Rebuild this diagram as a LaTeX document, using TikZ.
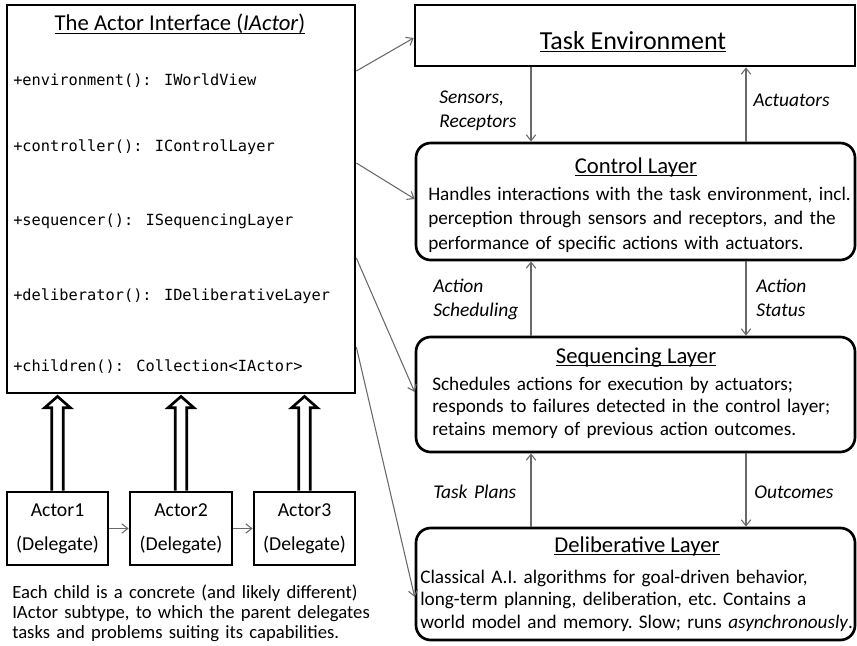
\documentclass[tikz,border=0pt]{standalone}
\usepackage{fontspec}
\setmainfont{Carlito}
\newfontfamily\monof{DejaVu Sans Mono}
\usetikzlibrary{arrows.meta,calc}
\definecolor{linegray}{RGB}{105,105,105}
\newcommand\ulx[1]{\underline{\smash{#1}}}
\newcommand\dsp{\hspace{0.33em}}
\newcommand\tsp{\spaceskip=0.19em plus 0.05em\relax}
\begin{document}
\begin{tikzpicture}[x=0.75pt,y=-0.75pt,
  thickbox/.style={draw=black,line width=2pt,inner sep=0pt,fill=white},
  rbox/.style={thickbox,rounded corners=11pt},
  conn/.style={draw=linegray,line width=0.8pt,-{Straight Barb[length=4.5pt,width=7pt]}},
  blk/.style={draw=black,fill=white,line width=2pt,line join=miter},
  ttl/.style={font=\fontsize{17}{20}\selectfont,inner sep=0pt,anchor=base},
  bigttl/.style={font=\fontsize{19.5}{23}\selectfont,inner sep=0pt,anchor=base},
  body/.style={font=\fontsize{14.4}{16.9}\selectfont\tsp,inner sep=0pt,anchor=base west,text width=340pt,align=left},
  lbl/.style={font=\fontsize{14.6}{18.5}\selectfont\itshape,inner sep=0pt,anchor=base west,text width=80pt,align=left},
  mth/.style={font=\fontsize{11.5}{13}\monof,inner sep=0pt,anchor=base west},
  act/.style={font=\fontsize{14.8}{17}\selectfont,inner sep=0pt,anchor=base}
]
\useasboundingbox (0,0) rectangle (857,646);

% ---- left: interface box
\node[thickbox,minimum width=261pt,minimum height=291pt] (lbox) at (181,199) {};
\node[ttl] (lttl) at (180,31) {\ulx{The Actor Interface (\textit{IActor})}};
\node[mth] (m1) at (13,85) {+environment(): IWorldView};
\node[mth] (m2) at (13,151) {+controller(): IControlLayer};
\node[mth] (m3) at (13,225) {+sequencer(): ISequencingLayer};
\node[mth] (m4) at (13,300) {+deliberator(): IDeliberativeLayer};
\node[mth] (m5) at (13,371) {+children(): Collection<IActor>};

% ---- actors
\node[thickbox,minimum width=75.75pt,minimum height=54.75pt] (a1) at (57.5,528.5) {};
\node[thickbox,minimum width=76.5pt,minimum height=54.75pt] (a2) at (181,528.5) {};
\node[thickbox,minimum width=75.75pt,minimum height=54.75pt] (a3) at (304.5,528.5) {};
\foreach \a/\n in {a1/1,a2/2,a3/3}{
  \node[act] (\a t) at ($(\a.north)+(0,26)$) {Actor\n};
  \node[act] (\a d) at ($(\a.north)+(0,60)$) {(Delegate)};
}
\draw[conn] (a1.east) -- (a2.west);
\draw[conn] (a2.east) -- (a3.west);

% ---- block (hollow) arrows from actors to interface
\foreach \a in {a1,a2,a3}{
  \draw[blk] let \p1=(\a.north), \p2=(lbox.south -| \a.north) in
    (\x1-4.3pt,\y1) -- (\x1-4.3pt,\y2-10pt) -- (\x1-9.6pt,\y2-10pt) -- (\x1,\y2-1.6pt)
    -- (\x1+9.6pt,\y2-10pt) -- (\x1+4.3pt,\y2-10pt) -- (\x1+4.3pt,\y1);
}

% ---- caption
\node[font=\fontsize{14}{15}\selectfont\tsp,inner sep=0pt,anchor=base west,text width=300pt,align=left] (cap) at (12,598)
  {Each child is a concrete (and likely different)\\IActor subtype, to which the parent delegates\\tasks and problems suiting its capabilities.};

% ---- right: layers
\node[thickbox,minimum width=330pt,minimum height=45.75pt] (te) at (635,35.5) {};
\node[bigttl] (tet) at (633,49) {\ulx{Task Environment}};

\node[rbox,minimum width=329.25pt,minimum height=87.75pt] (cl) at (635.5,201.5) {};
\node[ttl] (clt) at (636,173) {\ulx{Control Layer}};
\node[body,font=\fontsize{14.4}{18.5}\selectfont\tsp] (clb) at (428,200)
  {Handles interactions with the task environment, incl.\\perception through sensors and receptors, and the\\performance of specific actions with actuators.};

\node[rbox,minimum width=329.25pt,minimum height=86.25pt] (sq) at (635.5,394.5) {};
\node[ttl] (sqt) at (636,363) {\ulx{Sequencing Layer}};
\node[body] (sqb) at (432,390)
  {Schedules actions for execution by actuators;\\responds to failures detected in the control layer;\\retains memory of previous action outcomes.};

\node[rbox,minimum width=329.25pt,minimum height=84pt] (dl) at (635.5,584) {};
\node[ttl] (dlt) at (637,552) {\ulx{Deliberative Layer}};
\node[body] (dlb) at (420,583)
  {Classical A.I. algorithms for goal-driven behavior,\\long-term planning, deliberation, etc.\dsp Contains a\\world model and memory.\dsp Slow; runs \textit{asynchronously}.};

% ---- vertical connectors between layers
\coordinate (xl) at (531,0);
\coordinate (xr) at (746,0);
\draw[conn] (te.south -| xl) -- (cl.north -| xl);
\draw[conn] (cl.north -| xr) -- (te.south -| xr);
\draw[conn] (sq.north -| xl) -- (cl.south -| xl);
\draw[conn] (cl.south -| xr) -- (sq.north -| xr);
\draw[conn] (dl.north -| xl) -- (sq.south -| xl);
\draw[conn] (sq.south -| xr) -- (dl.north -| xr);

\node[lbl] (l1) at (439,103) {Sensors,\\Receptors};
\node[lbl] (l2) at (753,106) {Actuators};
\node[lbl] (l3) at (433,292) {Action\\Scheduling};
\node[lbl] (l4) at (756,292) {Action\\Status};
\node[lbl] (l5) at (433,498) {Task Plans};
\node[lbl] (l6) at (754,498) {Outcomes};

% ---- connectors from interface to layers
\coordinate (p1) at (0,71);  \coordinate (q1) at (0,38);
\coordinate (p2) at (0,163); \coordinate (q2) at (0,199);
\coordinate (p3) at (0,258); \coordinate (q3) at (0,392);
\coordinate (p4) at (0,347); \coordinate (q4) at (0,597);
\draw[conn] (lbox.east |- p1) -- (te.west |- q1);
\draw[conn] (lbox.east |- p2) -- (cl.west |- q2);
\draw[conn] (lbox.east |- p3) -- (sq.west |- q3);
\draw[conn] (lbox.east |- p4) -- (dl.west |- q4);
\end{tikzpicture}
\end{document}
